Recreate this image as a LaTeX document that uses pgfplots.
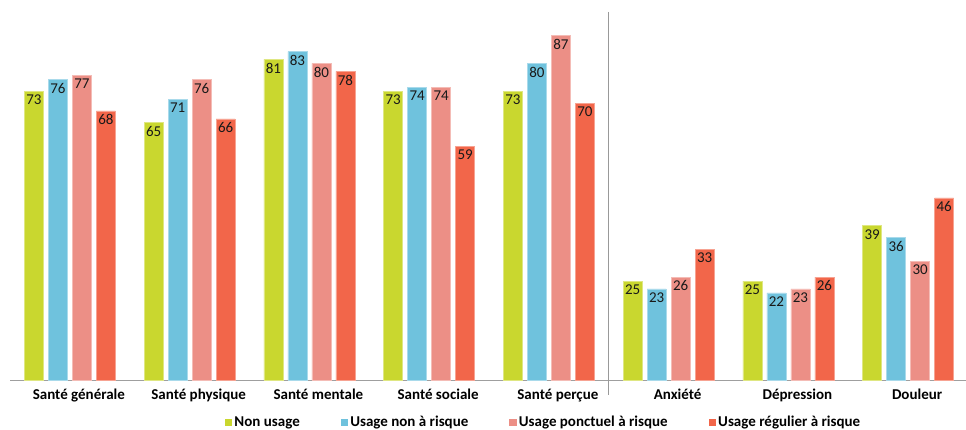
\documentclass[border=0pt]{standalone}
\usepackage{fontspec}
\setmainfont{Carlito}
\usepackage{pgfplots}
\pgfplotsset{compat=1.18}
\definecolor{cGreen}{HTML}{C9D72F}
\definecolor{cBlue}{HTML}{6FC2DD}
\definecolor{cPink}{HTML}{EC8F86}
\definecolor{cRed}{HTML}{F2664A}
\begin{document}
\begin{tikzpicture}
\begin{axis}[
  at={(0,0)}, anchor=south west,
  scale only axis, width=958pt, height=368pt,
  xmin=-0.5, xmax=7.5, ymin=0, ymax=93,
  ybar=5pt, bar width=19pt,
  clip=false,
  /pgf/number format/assume math mode=true,
  axis x line*=bottom, axis y line=none,
  x axis line style={-, draw=gray!75},
  xtick={0,...,7},
  xticklabels={Santé générale, Santé physique, Santé mentale, Santé sociale, Santé perçue, Anxiété, Dépression, Douleur},
  xtick style={draw=none},
  xticklabel style={font=\bfseries\fontsize{15}{18}\selectfont, yshift=-1.5pt, xshift=9pt},
  nodes near coords,
  every node near coord/.append style={anchor=north, font=\fontsize{15}{18}\selectfont, text=black!90, yshift=0pt},
  legend style={at={(0.557,-0.114)}, anchor=center, draw=none, fill=none,
    legend columns=4, font=\bfseries\fontsize{15}{18}\selectfont,
    /tikz/every even column/.append style={column sep=39pt},
    /tikz/every odd column/.append style={column sep=0pt}},
  legend image code/.code={\fill[#1,draw=none] (0pt,-4.5pt) rectangle (7.5pt,3pt);},
]
\addplot[fill=cGreen, draw=cGreen!60!white, line width=0.6pt] coordinates {(0,73) (1,65) (2,81) (3,73) (4,73) (5,25) (6,25) (7,39)};
\addplot[fill=cBlue, draw=cBlue!60!white, line width=0.6pt] coordinates {(0,76) (1,71) (2,83) (3,74) (4,80) (5,23) (6,22) (7,36)};
\addplot[fill=cPink, draw=cPink!60!white, line width=0.6pt] coordinates {(0,77) (1,76) (2,80) (3,74) (4,87) (5,26) (6,23) (7,30)};
\addplot[fill=cRed, draw=cRed!60!white, line width=0.6pt] coordinates {(0,68) (1,66) (2,78) (3,59) (4,70) (5,33) (6,26) (7,46)};
\legend{Non usage, Usage non à risque, Usage ponctuel à risque, Usage régulier à risque}
\draw[gray!80, line width=0.8pt] (axis cs:4.5,93) -- (axis cs:4.5,-3.8);
\end{axis}
\pgfresetboundingbox
\path[use as bounding box] (-10pt,-50pt) rectangle (956pt,380pt);
\end{tikzpicture}
\end{document}
